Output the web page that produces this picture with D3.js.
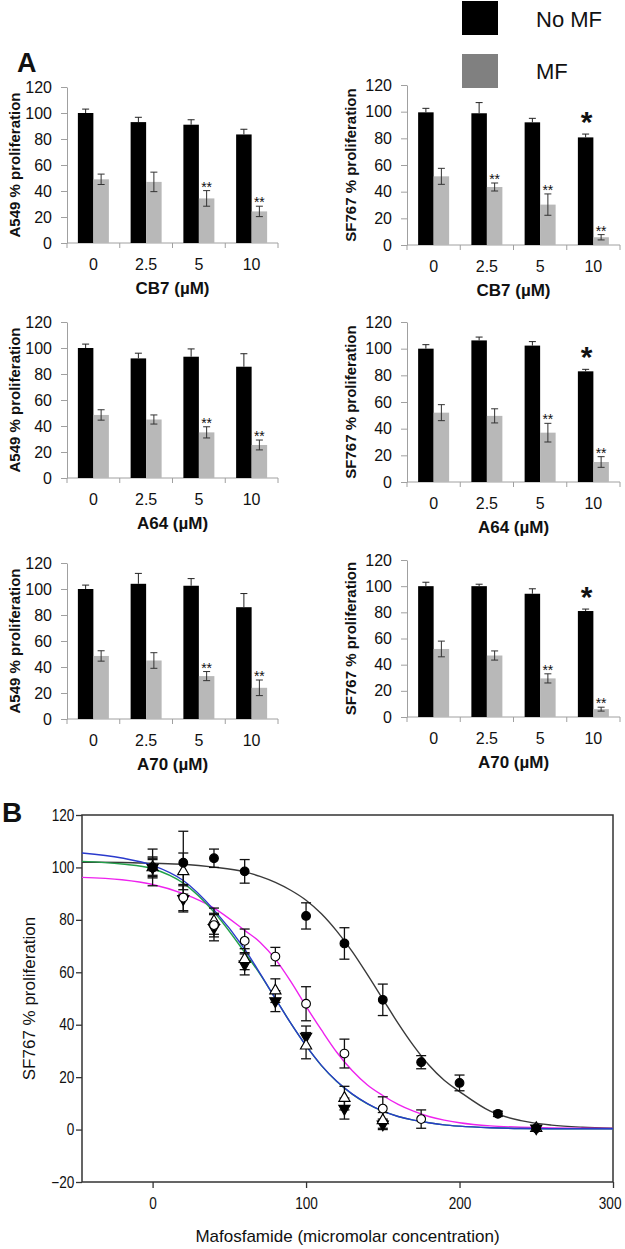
<!DOCTYPE html>
<html><head><meta charset="utf-8">
<script src="https://cdn.jsdelivr.net/npm/d3@7"></script>
<style>
body{margin:0;background:#fff}
svg{display:block}
text{font-family:"Liberation Sans",Arial,Helvetica,sans-serif;fill:#111}
</style>
</head><body>
<svg id="chart" width="625" height="1249"></svg>
<script>
// ---------- Panel A data ----------
const doses = ["0", "2.5", "5", "10"];
const legendLabels = ["No MF", "MF"];
const yTicksA = [0, 20, 40, 60, 80, 100, 120];

const a549CB7NoMF = [100, 93, 91, 83.5];
const a549CB7NoMFErr = [3, 3.7, 3.8, 4];
const a549CB7MF = [49, 47, 34.3, 24.3];
const a549CB7MFErr = [4, 7.5, 6, 4];
const a549CB7Sig = ["", "", "**", "**"];
const a549CB7Star = ["", "", "", ""];

const sf767CB7NoMF = [99.5, 98.8, 92, 80.7];
const sf767CB7NoMFErr = [3, 8, 3, 2.5];
const sf767CB7MF = [51.5, 43.5, 30.3, 5.8];
const sf767CB7MFErr = [6, 3, 8, 2];
const sf767CB7Sig = ["", "**", "**", "**"];
const sf767CB7Star = ["", "", "", "*"];

const a549A64NoMF = [100, 92, 93.3, 85.6];
const a549A64NoMFErr = [3, 4, 6, 10];
const a549A64MF = [48.5, 45, 35.1, 25.4];
const a549A64MFErr = [4, 3.5, 4.3, 3.8];
const a549A64Sig = ["", "", "**", "**"];
const a549A64Star = ["", "", "", ""];

const sf767A64NoMF = [100, 106.2, 102.3, 83];
const sf767A64NoMFErr = [3, 2.5, 3, 1.5];
const sf767A64MF = [52, 49.6, 37, 15];
const sf767A64MFErr = [6, 5.3, 7, 4];
const sf767A64Sig = ["", "", "**", "**"];
const sf767A64Star = ["", "", "", "*"];

const a549A70NoMF = [100, 104, 102.5, 86];
const a549A70NoMFErr = [3, 8, 5.5, 10.5];
const a549A70MF = [48.5, 45, 33, 24];
const a549A70MFErr = [4, 6, 3.5, 6];
const a549A70Sig = ["", "", "**", "**"];
const a549A70Star = ["", "", "", ""];

const sf767A70NoMF = [100, 100, 94.2, 81];
const sf767A70NoMFErr = [3, 1.5, 3.8, 1.5];
const sf767A70MF = [52, 47, 29.5, 6];
const sf767A70MFErr = [6, 3.5, 3.5, 1.5];
const sf767A70Sig = ["", "", "**", "**"];
const sf767A70Star = ["", "", "", "*"];

// ---------- Panel B data ----------
const xTicksB = [0, 100, 200, 300];
const yTicksB = [-20, 0, 20, 40, 60, 80, 100, 120];

const ctrlX = [0, 20, 40, 60, 100, 125, 150, 175, 200, 225, 250];
const ctrlY = [100, 101.8, 103.5, 98.5, 81.5, 71, 49.5, 25.7, 17.8, 6, 0.5];
const ctrlErr = [3.5, 12, 3.5, 4.5, 5, 6, 6, 2.5, 3, 1, 1];

const circX = [0, 20, 40, 60, 80, 100, 125, 150, 175];
const circY = [100, 88.5, 78, 72, 66, 48, 29, 8, 4];
const circErr = [7, 5, 4.5, 4.5, 3.5, 6.5, 5.5, 4.5, 3.5];

const triX = [0, 20, 40, 60, 80, 100, 125, 150, 250];
const triY = [100, 98.5, 79.5, 65, 53, 32, 12, 3.5, 0.5];
const triErr = [4, 7, 5, 4, 4.5, 5, 4.5, 3, 1];

const dtriX = [0, 20, 40, 60, 80, 100, 125, 150, 250];
const dtriY = [100, 88, 77, 63, 49, 35.5, 8, 2, 0.5];
const dtriErr = [3, 5, 5, 4, 4, 4, 4, 2, 1];

// fitted curves
const fitX = [-46, -20, 0, 20, 40, 60, 70, 80, 90, 100, 110, 120, 130, 140, 150, 160, 170, 180, 190, 200, 220, 240, 260, 280, 300];
const fitBlack = [102, 101.9, 101.6, 101.2, 100.1, 98.3, 96.6, 94.3, 91.3, 87.5, 82.3, 75.7, 68, 59.1, 49.8, 40.5, 32, 24.6, 18.8, 14.5, 7, 3.4, 1.7, 0.9, 0.5];
const fitMagenta = [96.2, 95.3, 93.5, 90, 84.5, 76, 71.5, 65, 56.5, 47, 38, 29.5, 22.5, 17, 13, 9.6, 7, 5, 3.6, 2.6, 1.4, 0.9, 0.6, 0.5, 0.4];
const fitGreen = [102.3, 101.3, 99.5, 94, 83, 67.6, 59.3, 50, 40.6, 32, 24.4, 18.3, 13.5, 9.8, 7, 5, 3.6, 2.6, 1.8, 1.3, 0.7, 0.4, 0.3, 0.3, 0.3];
const fitBlue = [105.5, 103.6, 100.8, 95, 83.8, 68.8, 59.6, 50, 40.6, 32, 24.5, 18.4, 13.6, 9.9, 7, 5, 3.6, 2.6, 1.8, 1.3, 0.7, 0.4, 0.3, 0.3, 0.3];

// ---------- drawing ----------
const svg = d3.select("#chart");
const BLACK = "#000", GRAY = "#b8b8b8", AXIS = "#a0a0a0";

const barCharts = [
  {noMF:a549CB7NoMF, noMFErr:a549CB7NoMFErr, mf:a549CB7MF, mfErr:a549CB7MFErr, sig:a549CB7Sig, star:a549CB7Star, ylab:"A549 % proliferation", xlab:"CB7 (µM)", x0:67, x1:278, yZero:243, yTop:87, ylx:20},
  {noMF:sf767CB7NoMF, noMFErr:sf767CB7NoMFErr, mf:sf767CB7MF, mfErr:sf767CB7MFErr, sig:sf767CB7Sig, star:sf767CB7Star, ylab:"SF767 % proliferation", xlab:"CB7 (µM)", x0:407, x1:620, yZero:245, yTop:85, ylx:356},
  {noMF:a549A64NoMF, noMFErr:a549A64NoMFErr, mf:a549A64MF, mfErr:a549A64MFErr, sig:a549A64Sig, star:a549A64Star, ylab:"A549 % proliferation", xlab:"A64 (µM)", x0:67, x1:278, yZero:478, yTop:322, ylx:20},
  {noMF:sf767A64NoMF, noMFErr:sf767A64NoMFErr, mf:sf767A64MF, mfErr:sf767A64MFErr, sig:sf767A64Sig, star:sf767A64Star, ylab:"SF767 % proliferation", xlab:"A64 (µM)", x0:407, x1:620, yZero:482, yTop:322, ylx:356},
  {noMF:a549A70NoMF, noMFErr:a549A70NoMFErr, mf:a549A70MF, mfErr:a549A70MFErr, sig:a549A70Sig, star:a549A70Star, ylab:"A549 % proliferation", xlab:"A70 (µM)", x0:67, x1:278, yZero:719, yTop:563, ylx:20},
  {noMF:sf767A70NoMF, noMFErr:sf767A70NoMFErr, mf:sf767A70MF, mfErr:sf767A70MFErr, sig:sf767A70Sig, star:sf767A70Star, ylab:"SF767 % proliferation", xlab:"A70 (µM)", x0:407, x1:620, yZero:717, yTop:560, ylx:356}
];

function drawBarChart(c) {
  const g = svg.append("g");
  const x = d3.scaleBand().domain(doses).range([c.x0, c.x1]);
  const bw = x.bandwidth();
  const sub = d3.scaleBand().domain(["noMF", "mf"]).range([bw / 2 - 15.5, bw / 2 + 15.5]);
  const y = d3.scaleLinear().domain([0, 120]).range([c.yZero, c.yTop]);

  // y axis
  const ya = g.append("g").attr("transform", `translate(${c.x0},0)`)
    .call(d3.axisLeft(y).tickValues(yTicksA).tickSize(6).tickSizeOuter(0).tickPadding(9));
  ya.select(".domain").attr("stroke", AXIS);
  ya.selectAll(".tick line").attr("stroke", AXIS);
  ya.selectAll(".tick text").attr("font-size", 16).attr("font-family", "Liberation Sans, Arial, sans-serif").attr("fill", "#111");

  // x axis baseline with band-boundary ticks
  g.append("line").attr("x1", c.x0).attr("x2", c.x1).attr("y1", y(0)).attr("y2", y(0)).attr("stroke", AXIS);
  const bounds = doses.map(d => x(d)).concat([c.x1]);
  g.selectAll(".bt").data(bounds).join("line")
    .attr("x1", d => d).attr("x2", d => d).attr("y1", y(0)).attr("y2", y(0) + 5).attr("stroke", AXIS);
  g.selectAll(".cl").data(doses).join("text")
    .attr("x", d => x(d) + bw / 2).attr("y", y(0) + 27).attr("text-anchor", "middle")
    .attr("font-size", 16).text(d => d);
  g.append("text").attr("x", (c.x0 + c.x1) / 2).attr("y", y(0) + 51).attr("text-anchor", "middle")
    .attr("font-size", 17).attr("font-weight", "bold").text(c.xlab);
  g.append("text").attr("transform", `translate(${c.ylx},${(c.yZero + c.yTop) / 2}) rotate(-90)`)
    .attr("text-anchor", "middle").attr("font-size", 15).attr("font-weight", "bold").text(c.ylab);

  doses.forEach((d, i) => {
    const xb = x(d) + sub("noMF"), xg = x(d) + sub("mf"), w = sub.bandwidth();
    g.append("rect").attr("x", xb).attr("y", y(c.noMF[i])).attr("width", w).attr("height", y(0) - y(c.noMF[i])).attr("fill", BLACK);
    g.append("rect").attr("x", xg).attr("y", y(c.mf[i])).attr("width", w).attr("height", y(0) - y(c.mf[i])).attr("fill", GRAY);
    // black: upper error only
    const cb = xb + w / 2, cg = xg + w / 2;
    const eT = y(c.noMF[i] + c.noMFErr[i]);
    g.append("line").attr("x1", cb).attr("x2", cb).attr("y1", y(c.noMF[i])).attr("y2", eT).attr("stroke", "#222");
    g.append("line").attr("x1", cb - 3.5).attr("x2", cb + 3.5).attr("y1", eT).attr("y2", eT).attr("stroke", "#222");
    const gT = y(c.mf[i] + c.mfErr[i]), gB = y(c.mf[i] - c.mfErr[i]);
    g.append("line").attr("x1", cg).attr("x2", cg).attr("y1", gB).attr("y2", gT).attr("stroke", "#333");
    [gT, gB].forEach(v => g.append("line").attr("x1", cg - 3.5).attr("x2", cg + 3.5).attr("y1", v).attr("y2", v).attr("stroke", "#333"));
    if (c.sig[i]) g.append("text").attr("x", cg).attr("y", gT + 1).attr("text-anchor", "middle").attr("font-size", 14).text(c.sig[i]);
    if (c.star[i]) g.append("text").attr("x", cb + 1).attr("y", eT - 2).attr("text-anchor", "middle").attr("font-size", 30).attr("font-weight", "bold").text(c.star[i]);
  });
}
barCharts.forEach(drawBarChart);

// panel labels and legend
svg.append("text").attr("x", 17).attr("y", 72).attr("font-size", 27).attr("font-weight", "bold").text("A");
svg.append("text").attr("x", 2).attr("y", 822).attr("font-size", 28).attr("font-weight", "bold").text("B");
const legColors = [BLACK, "#808080"];
legendLabels.forEach((l, i) => {
  svg.append("rect").attr("x", 462).attr("y", 1 + i * 53).attr("width", 36).attr("height", 34).attr("fill", legColors[i]);
  svg.append("text").attr("x", 536).attr("y", 27 + i * 52).attr("font-size", 22).text(l);
});

// ---------- Panel B ----------
const xB = d3.scaleLinear().domain([-46, 300]).range([82, 613]);
const yB = d3.scaleLinear().domain([-20, 120]).range([1182, 815]);
const gB = svg.append("g");
const yax = gB.append("g").attr("transform", `translate(${xB.range()[0]},0)`)
  .call(d3.axisLeft(yB).tickValues(yTicksB).tickSize(6).tickSizeOuter(0).tickPadding(3));
const xax = gB.append("g").attr("transform", `translate(0,${yB.range()[0]})`)
  .call(d3.axisBottom(xB).tickValues(xTicksB).tickSize(6).tickSizeOuter(0).tickPadding(10));
[yax, xax].forEach(a => {
  a.select(".domain").remove();
  a.selectAll(".tick line").attr("stroke", "#333").attr("stroke-width", 1.3);
  a.selectAll(".tick text").attr("font-size", 16).attr("fill", "#222").attr("transform", "scale(0.85,1)");
});
xax.selectAll(".tick text").filter(d => d === 300).attr("dx", -4);
gB.append("rect").attr("x", xB.range()[0]).attr("y", yB.range()[1])
  .attr("width", xB.range()[1] - xB.range()[0]).attr("height", yB.range()[0] - yB.range()[1])
  .attr("fill", "none").attr("stroke", "#333").attr("stroke-width", 1.5);
gB.append("text").attr("x", (xB.range()[0] + xB.range()[1]) / 2).attr("y", 1242).attr("text-anchor", "middle")
  .attr("font-size", 17).attr("fill", "#222").text("Mafosfamide (micromolar concentration)");
gB.append("text").attr("transform", `translate(35,${(yB.range()[0] + yB.range()[1]) / 2}) rotate(-90)`)
  .attr("text-anchor", "middle").attr("font-size", 17).attr("fill", "#222").text("SF767 % proliferation");

svg.append("clipPath").attr("id", "clipB").append("rect")
  .attr("x", xB.range()[0]).attr("y", yB.range()[1]).attr("width", xB.range()[1] - xB.range()[0]).attr("height", yB.range()[0] - yB.range()[1]);
const line = d3.line().x(d => xB(d[0])).y(d => yB(d[1])).curve(d3.curveMonotoneX);
const curves = [[fitBlack, "#3a3a3a"], [fitMagenta, "#ee22ee"], [fitGreen, "#22a04a"], [fitBlue, "#2a3acc"]];
const cg = gB.append("g").attr("clip-path", "url(#clipB)");
curves.forEach(([vals, col]) => {
  cg.append("path").datum(fitX.map((xv, i) => [xv, vals[i]])).attr("d", line)
    .attr("fill", "none").attr("stroke", col).attr("stroke-width", 1.4);
});

const series = [
  {xs: dtriX, ys: dtriY, es: dtriErr, sym: d3.symbolTriangle, rot: 180, fill: "#000"},
  {xs: triX, ys: triY, es: triErr, sym: d3.symbolTriangle, rot: 0, fill: "#fff"},
  {xs: circX, ys: circY, es: circErr, sym: d3.symbolCircle, rot: 0, fill: "#fff"},
  {xs: ctrlX, ys: ctrlY, es: ctrlErr, sym: d3.symbolCircle, rot: 0, fill: "#000"}
];
series.forEach(s => {
  s.xs.forEach((xv, i) => {
    const px = xB(xv), t = yB(s.ys[i] + s.es[i]), b = yB(s.ys[i] - s.es[i]);
    gB.append("line").attr("x1", px).attr("x2", px).attr("y1", t).attr("y2", b).attr("stroke", "#111").attr("stroke-width", 1.3);
    [t, b].forEach(v => gB.append("line").attr("x1", px - 5).attr("x2", px + 5).attr("y1", v).attr("y2", v).attr("stroke", "#111").attr("stroke-width", 1.3));
  });
});
series.forEach(s => {
  s.xs.forEach((xv, i) => {
    gB.append("path").attr("d", d3.symbol().type(s.sym).size(s.sym === d3.symbolCircle ? 60 : 55)())
      .attr("transform", `translate(${xB(xv)},${yB(s.ys[i])}) rotate(${s.rot})`)
      .attr("fill", s.fill).attr("stroke", "#000").attr("stroke-width", 1.1);
  });
});
</script>
</body></html>
